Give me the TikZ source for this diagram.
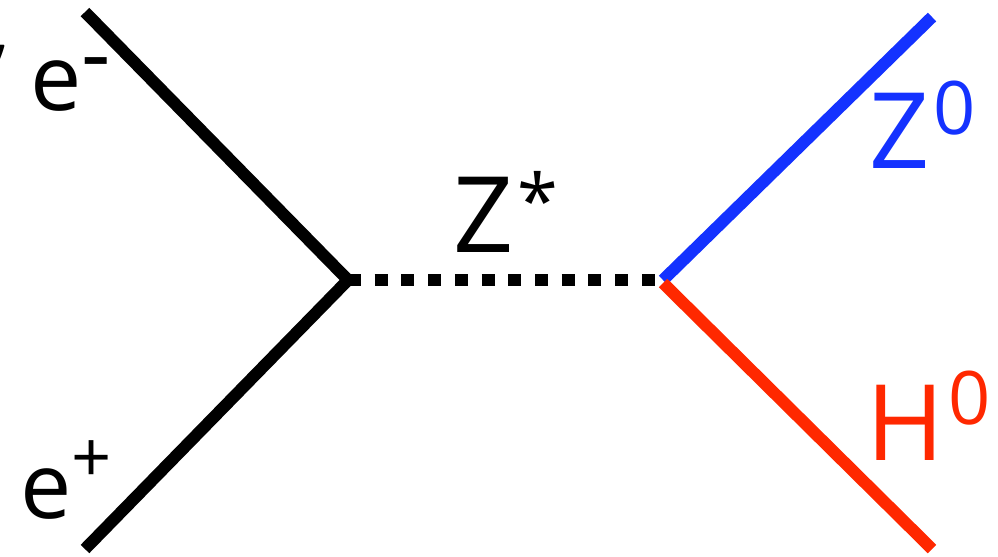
\documentclass[tikz,border=0pt]{standalone}
\usepackage{fontspec}
\setmainfont{Open Sans}
\usetikzlibrary{positioning}
\definecolor{zblue}{RGB}{20,50,255}
\definecolor{hred}{RGB}{255,40,0}
\newcommand{\esup}[3]{\raisebox{#1}{\fontsize{#2}{24}\selectfont #3}}
\newcommand{\bsup}[2]{\raisebox{#1}{\fontsize{21}{25}\selectfont #2}}

\begin{document}
\begin{tikzpicture}[x=0.01cm, y=-0.01cm,
  leg/.style={line width=0.12cm},
  prop/.style={line width=0.12cm, dash pattern=on 0.13cm off 0.137cm},
  big/.style={anchor=base west, inner sep=0pt, font=\fontsize{30}{36}\selectfont},
  small/.style={anchor=base west, inner sep=0pt, font=\fontsize{26}{31}\selectfont}
]
\useasboundingbox (0,0) rectangle (998,556);
\coordinate (em) at (85,12);
\coordinate (ep) at (85,549);
\coordinate (v1) at (348,280);
\coordinate (v2) at (663,280);
\coordinate (v3) at (663,283);
\coordinate (z0) at (932,17);
\coordinate (h0) at (932,549);

% lines
\draw[leg] (em) -- (v1) -- (ep);
\draw[prop] (v1) -- (v2);
\draw[leg, zblue] (v2) -- (z0);
\draw[leg, hred] (v3) -- (h0);

% labels
\node[small] (tick) at (-10,110) {’};
\node[small] (elab) at (30,110) {e\esup{7pt}{26}{-}};
\node[small] (plab) at (20,518) {e\esup{10pt}{20}{+}};
\node[big] (zslab) at (453,252) {Z\kern1pt\bsup{7pt}{*}};
\node[big, text=zblue] (zlab) at (869,168) {Z\kern1pt\bsup{9.4pt}{0}};
\node[big, text=hred] (hlab) at (866,460) {H\kern1pt\bsup{10pt}{0}};
\end{tikzpicture}
\end{document}
